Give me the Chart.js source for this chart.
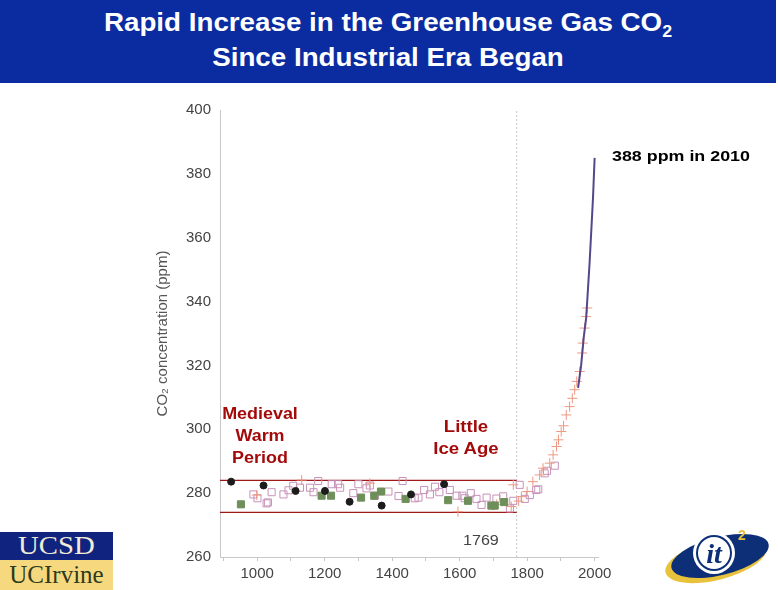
<!DOCTYPE html>
<html>
<head>
<meta charset="utf-8">
<script src="https://cdn.jsdelivr.net/npm/chart.js@4"></script>
<style>
  body { margin: 0; background: #fff; }
  #slide { position: relative; width: 778px; height: 590px; overflow: hidden; background: #fff; font-family: "Liberation Sans", Arial, sans-serif; }
  #banner { position: absolute; left: 0; top: 0; width: 776px; height: 83px; background: #0b2ca0; color: #fff; text-align: center; font-weight: bold; font-size: 25px; }
  #banner div { position: absolute; left: 0; right: 0; transform: scaleX(1.11); }
  #banner sub { font-size: 16px; vertical-align: -6px; }
  #chartBox { position: absolute; left: 0; top: 83px; width: 778px; height: 507px; }
  .note { position: absolute; font-weight: bold; text-align: center; white-space: nowrap; }
  .red { color: #a30a0a; font-size: 16px; line-height: 22px; }
  #ucsd { position: absolute; left: 0; top: 532px; width: 113px; height: 28px; background: #10237e; color: #f1ecd6; font-family: "Liberation Serif", "DejaVu Serif", serif; font-size: 25px; text-align: center; line-height: 28px; }
  #ucsd span { display: inline-block; transform: scaleX(1.15); }
  #uci { position: absolute; left: 0; top: 560px; width: 113px; height: 30px; background: #f6d97e; color: #2e3a1c; font-family: "Liberation Serif", "DejaVu Serif", serif; font-size: 25px; text-align: center; line-height: 30px; }
  #logo { position: absolute; left: 660px; top: 520px; }
</style>
</head>
<body>
<div id="slide">
  <div id="banner">
    <div style="top:8px">Rapid Increase in the Greenhouse Gas CO<sub>2</sub></div>
    <div style="top:43px">Since Industrial Era Began</div>
  </div>
  <div id="chartBox"><canvas id="co2Chart"></canvas></div>

  <div class="note red" style="left:210px; top:403px; width:100px; transform:scaleX(1.12);">Medieval<br>Warm<br>Period</div>
  <div class="note red" style="left:416px; top:416px; width:100px; transform:scaleX(1.16);">Little<br>Ice Age</div>
  <div class="note" style="left:612px; top:147px; font-size:15px; color:#000; transform:scaleX(1.19); transform-origin:left center;">388 ppm in 2010</div>
  <div class="note" style="left:463px; top:532px; font-size:14px; font-weight:normal; color:#444; transform:scaleX(1.15); transform-origin:left center;">1769</div>

  <div id="ucsd"><span>UCSD</span></div>
  <div id="uci">UCIrvine</div>
  <svg id="logo" width="118" height="70" viewBox="0 0 118 70">
    <ellipse cx="56" cy="40" rx="52" ry="20" transform="rotate(-14 56 40)" fill="#e8c23a"/>
    <ellipse cx="60" cy="36" rx="50" ry="19" transform="rotate(-14 60 36)" fill="#0d2f78"/>
    <circle cx="54" cy="33" r="21" fill="#fff"/>
    <circle cx="54" cy="33" r="18" fill="#0d2f78"/>
    <circle cx="54" cy="33" r="16" fill="#fff"/>
    <text x="54" y="43" text-anchor="middle" font-family="Liberation Serif, serif" font-style="italic" font-weight="bold" font-size="28" fill="#0d2f78">it</text>
    <text x="78" y="20" font-family="Liberation Sans, sans-serif" font-weight="bold" font-size="14" fill="#e8c23a">2</text>
  </svg>
</div>

<script>
// tick labels
const yTicks = [260, 280, 300, 320, 340, 360, 380, 400];
const xTickLabels = [1000, 1200, 1400, 1600, 1800, 2000];
const xMinorTicks = [900, 1000, 1100, 1200, 1300, 1400, 1500, 1600, 1700, 1800, 1900, 2000];

// ice core records, [year, ppm]
const blackCircles = [[923, 283.6], [1019, 282.4], [1114, 280.7], [1201, 280.7], [1274, 277.3],
  [1369, 276.1], [1456, 279.6], [1554, 282.8]];

const greenSquares = [[952, 276.5], [1191, 279.2], [1219, 279.2], [1308, 278.6], [1347, 279.2],
  [1367, 280.5], [1440, 278.2], [1566, 277.8], [1625, 277.6], [1694, 276.1], [1704, 276.1], [1732, 277.2]];

const openSquares = [[989, 279.6], [1001, 278.4], [1028, 276.8], [1032, 277.1], [1043, 280.3],
  [1078, 279.6], [1093, 280.9], [1107, 282.3], [1127, 281.7], [1157, 281.7], [1167, 280.3],
  [1181, 283.8], [1221, 282.8], [1240, 282.8], [1246, 281.7], [1285, 280], [1300, 282.8],
  [1324, 281.5], [1334, 282.4], [1349, 279.2], [1389, 280.5], [1419, 279.1], [1431, 283.8],
  [1467, 278.4], [1478, 278.6], [1495, 281], [1512, 279.6], [1527, 282], [1540, 280.3],
  [1571, 281], [1591, 279.2], [1608, 279.2], [1615, 278.4], [1633, 280], [1650, 278.2],
  [1665, 276.3], [1680, 278.6], [1709, 278.3], [1729, 279], [1749, 275.2], [1759, 277.6],
  [1778, 282.6], [1793, 278.2], [1808, 279.4], [1827, 281], [1833, 281.2], [1852, 286.2],
  [1859, 287], [1882, 288.6]];

const redPluses = [[999, 279.4], [1132, 284.1], [1334, 283.1], [1595, 274.2], [1710, 276.5],
  [1753, 275.8], [1759, 282.6], [1775, 277.5], [1783, 278.9], [1800, 280.5], [1817, 283.6],
  [1837, 285.7], [1847, 287.8], [1867, 289.4], [1877, 292], [1887, 294.6], [1893, 296.7],
  [1901, 299.3], [1908, 301.1], [1916, 304.5], [1926, 307.1], [1934, 309.7], [1941, 312.4],
  [1947, 315], [1956, 318.1], [1963, 323.9], [1965, 327], [1970, 331.7], [1975, 335.3], [1978, 338]];

// Mauna Loa
const maunaLoa = [[1951, 313], [1960, 320], [1968, 329], [1975, 335], [1985, 352],
  [1990, 362], [1995, 372], [2000, 385]];

// reference lines
const bandTop = 284;
const bandBottom = 274;
const industrialYear = 1769;

const pts = arr => arr.map(p => ({ x: p[0], y: p[1] }));

const ctx = document.getElementById('co2Chart').getContext('2d');
const chart = new Chart(ctx, {
  type: 'scatter',
  data: {
    datasets: [
      { data: pts(maunaLoa), showLine: true, borderColor: '#55488a', borderWidth: 2, pointRadius: 0, order: 1 },
      { data: pts(blackCircles), pointStyle: 'circle', pointRadius: 3.5, backgroundColor: '#1c1c1c', borderColor: '#1c1c1c', order: 2 },
      { data: pts(greenSquares), pointStyle: 'rect', pointRadius: 5, backgroundColor: '#6e8f5a', borderColor: '#6e8f5a', order: 3 },
      { data: pts(redPluses), pointStyle: 'cross', pointRadius: 5, borderColor: '#ee9880', borderWidth: 1, order: 4 },
      { data: pts(openSquares), pointStyle: 'rect', pointRadius: 5, backgroundColor: 'rgba(0,0,0,0)', borderColor: '#c792b8', borderWidth: 1, order: 5 },
      { data: [{ x: 890, y: bandTop }, { x: industrialYear, y: bandTop }], showLine: true, borderColor: '#a01818', borderWidth: 1.3, pointRadius: 0, order: 6 },
      { data: [{ x: 890, y: bandBottom }, { x: industrialYear, y: bandBottom }], showLine: true, borderColor: '#a01818', borderWidth: 1.3, pointRadius: 0, order: 7 },
      { data: [{ x: industrialYear, y: 260 }, { x: industrialYear, y: 400 }], showLine: true, borderColor: '#c8c8c8', borderWidth: 1, borderDash: [2, 2], pointRadius: 0, order: 8 }
    ]
  },
  options: {
    responsive: true,
    maintainAspectRatio: false,
    animation: false,
    layout: { padding: { top: 27, left: 150, right: 180, bottom: 0 } },
    plugins: { legend: { display: false }, tooltip: { enabled: false } },
    scales: {
      x: {
        type: 'linear', min: 890, max: 2010,
        afterBuildTicks: s => { s.ticks = xMinorTicks.map(v => ({ value: v })); },
        afterFit: s => { s.height = 33; },
        grid: { display: true, drawOnChartArea: false, drawTicks: true, tickLength: 4, color: '#c8c8c8' },
        border: { color: '#c8c8c8', dash: [2, 2] },
        ticks: {
          autoSkip: false, maxRotation: 0, padding: 4, color: '#444',
          font: { family: 'Liberation Sans, Arial, sans-serif', size: 15 },
          callback: v => xTickLabels.includes(v) ? String(v) : ''
        }
      },
      y: {
        min: 260, max: 400,
        afterBuildTicks: s => { s.ticks = yTicks.map(v => ({ value: v })); },
        afterFit: s => { s.width = 70; },
        grid: { display: false, drawTicks: false },
        border: { display: true, color: '#c8c8c8', dash: [2, 2] },
        ticks: { padding: 9, color: '#444', font: { family: 'Liberation Sans, Arial, sans-serif', size: 15 } },
        title: {
          display: true, text: 'CO₂ concentration (ppm)', color: '#555',
          font: { family: 'Liberation Sans, Arial, sans-serif', size: 15 },
          padding: { top: 4, bottom: 0 }
        }
      }
    }
  }
});
</script>
</body>
</html>
